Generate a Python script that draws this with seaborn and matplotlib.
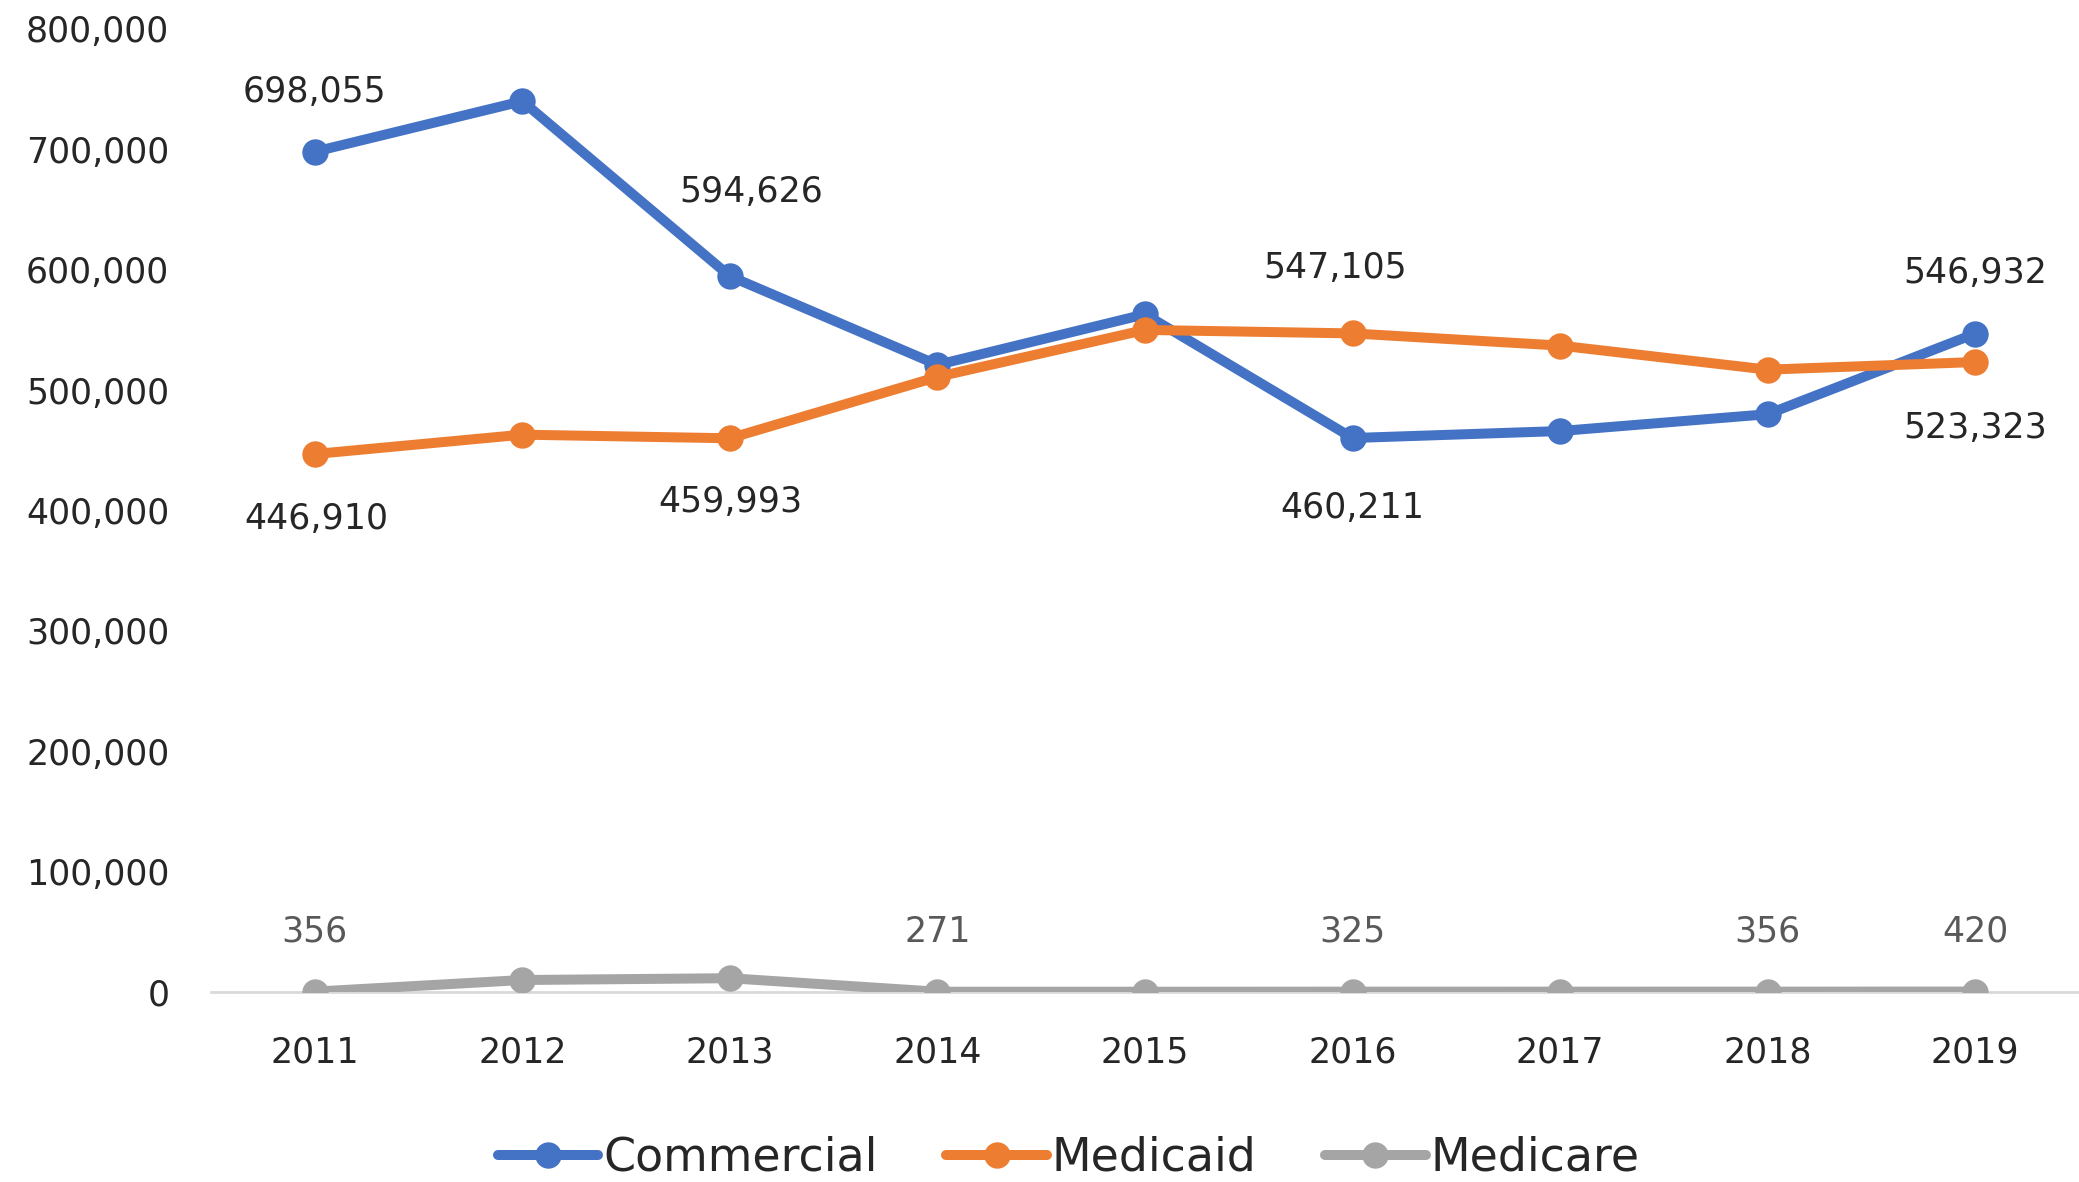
import seaborn as sns
import matplotlib.pyplot as plt
import pandas as pd

years = [2011, 2012, 2013, 2014, 2015, 2016, 2017, 2018, 2019]
commercial = [698055, 740000, 594626, 521000, 563000, 460211, 466000, 480000, 546932]
medicaid = [446910, 463000, 459993, 511000, 550000, 547105, 537000, 517000, 523323]
medicare = [356, 10000, 11500, 271, 290, 325, 340, 356, 420]
series = ['Commercial', 'Medicaid', 'Medicare']
colors = ['#4472C4', '#ED7D31', '#A5A5A5']

# which points get a value label, and where (pixel offsets)
labels = {
    'Commercial': {2011: (0, 60), 2013: (21, 84), 2016: (0, -70), 2019: (0, 61)},
    'Medicaid': {2011: (2, -65), 2013: (0, -64), 2016: (-17, 65), 2019: (0, -66)},
    'Medicare': {2011: (0, 60), 2014: (0, 60), 2016: (0, 60), 2018: (0, 60), 2019: (0, 60)},
}

sns.set_style('white')
plt.rcParams['font.family'] = ['DejaVu Sans']
plt.rcParams['font.size'] = 24

df = pd.DataFrame({
    'Year': years * 3,
    'Value': commercial + medicaid + medicare,
    'Series': [s for s in series for _ in years],
})

fig = plt.figure(figsize=(20.79, 11.82), dpi=100)
ax = fig.add_axes([0.1015, 0.1607, 0.8985, 0.8148])

sns.lineplot(data=df, x='Year', y='Value', hue='Series', palette=colors,
             marker='o', markersize=19, markeredgewidth=0, linewidth=7.2,
             ax=ax, legend=True)

vals = {'Commercial': commercial, 'Medicaid': medicaid, 'Medicare': medicare}
for s in series:
    for yr, (dx, dy) in labels[s].items():
        v = vals[s][years.index(yr)]
        ax.annotate(f'{v:,}', (yr, v), xytext=(dx, dy), textcoords='offset pixels',
                    ha='center', va='center', fontsize=25,
                    color='#595959' if s == 'Medicare' else '#262626')

ax.set_xlim(2010.5, 2019.5)
ax.set_ylim(0, 800000)
ax.set_xticks(years)
ax.set_yticks(range(0, 800001, 100000))
ax.yaxis.set_major_formatter(plt.FuncFormatter(lambda v, p: f'{int(v):,}'))
ax.tick_params(axis='both', length=0, labelsize=25, labelcolor='#262626')
ax.tick_params(axis='y', pad=30)
ax.tick_params(axis='x', pad=31)
ax.set_xlabel('')
ax.set_ylabel('')
for sp in ['top', 'right', 'left']:
    ax.spines[sp].set_visible(False)
ax.spines['bottom'].set_color('#D9D9D9')
ax.spines['bottom'].set_linewidth(2)
ax.spines['bottom'].set_zorder(0)

handles, lbls = ax.get_legend_handles_labels()
ax.get_legend().remove()
fig.legend(handles, lbls, loc='center', bbox_to_anchor=(0.514, 0.02), ncol=3,
           frameon=False, fontsize=33, handlelength=2.2, handletextpad=0.1,
           columnspacing=1.5)

fig.savefig('out.png', dpi=100)
